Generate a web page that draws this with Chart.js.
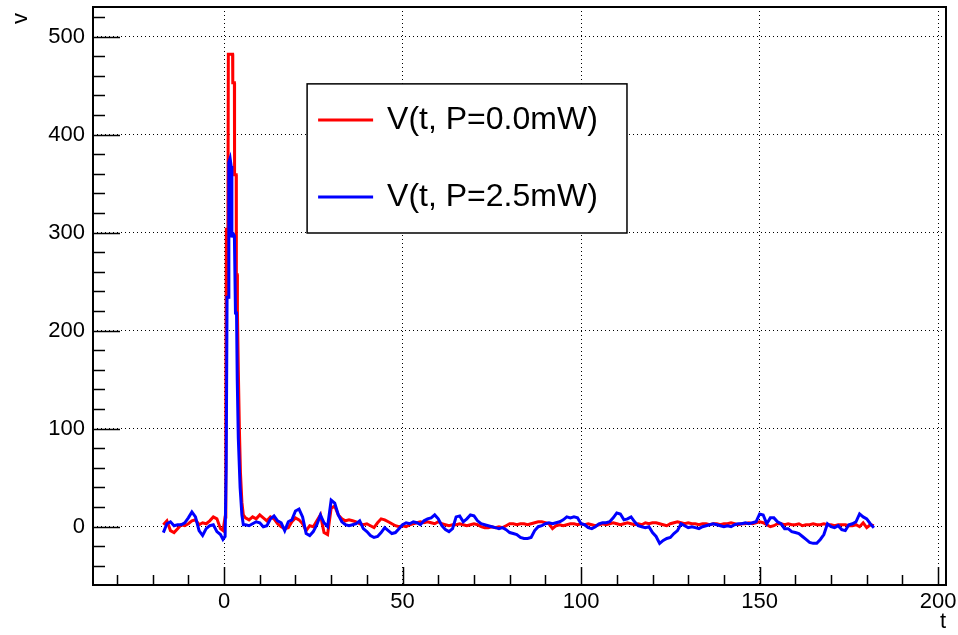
<!DOCTYPE html>
<html><head><meta charset="utf-8">
<script src="https://cdn.jsdelivr.net/npm/chart.js@4.4.1/dist/chart.umd.min.js"></script>
<style>html,body{margin:0;padding:0;background:#fff}#wrap{width:958px;height:635px}</style>
</head><body><div id="wrap"><canvas id="c" width="958" height="635"></canvas></div>
<script>
// ---- data ----
const seriesLabels = ['V(t, P=0.0mW)', 'V(t, P=2.5mW)'];
const xMajorTicks = [0, 50, 100, 150, 200];
const xMinorTicks = [-30, -20, -10, 10, 20, 30, 40, 60, 70, 80, 90, 110, 120, 130, 140, 160, 170, 180, 190];
const yMajorTicks = [0, 100, 200, 300, 400, 500];
const yMinorTicks = [-40, -20, 20, 40, 60, 80, 120, 140, 160, 180, 220, 240, 260, 280, 320, 340, 360, 380, 420, 440, 460, 480, 520];

const tPre = [-17, -16, -15, -14, -13, -12, -11, -10, -9, -8, -7, -6, -5, -4, -3, -2, -1];
const redPre  = [2, 6, -4, -6, -2, 2, 1, 3, 6, 7, 2, 4, 3, 6, 10, 8, -2];
const bluePre = [-6, 3, 5, 1, 2, 2, 4, 9, 15, 10, -4, -9, -2, 1, 2, -5, -8];

const tRedSpike = [-0.3, 0.3, 0.5, 0.65, 1.0, 1.05, 1.2, 2.4, 2.45, 2.9, 2.95, 3.4, 3.45, 3.7, 3.75, 4.0, 4.3, 4.6, 5.0, 5.4];
const vRedSpike = [-4, 10, 120, 305, 234, 240, 482, 482, 453, 453, 359, 359, 257, 257, 220, 160, 100, 55, 25, 12];
const tBlueSpike = [-0.3, 0.3, 0.6, 0.85, 1.25, 1.35, 1.7, 2.0, 2.2, 2.4, 2.9, 3.2, 3.5, 3.7, 4.0, 4.5, 5.0, 5.4];
const vBlueSpike = [-13, -10, 60, 234, 234, 372, 376, 368, 295, 300, 297, 218, 218, 150, 90, 40, 12, 2];

const tPost = [
  6, 7, 8, 9, 10, 11, 12, 13, 14, 15,
  16, 17, 18, 19, 20, 21, 22, 23, 24, 25,
  26, 27, 28, 29, 30, 31, 32, 33, 34, 35,
  36, 37, 38, 39, 40, 41, 42, 43, 44, 45,
  46, 47, 48, 49, 50, 51, 52, 53, 54, 55,
  56, 57, 58, 59, 60, 61, 62, 63, 64, 65,
  66, 67, 68, 69, 70, 71, 72, 73, 74, 75,
  76, 77, 78, 79, 80, 81, 82, 83, 84, 85,
  86, 87, 88, 89, 90, 91, 92, 93, 94, 95,
  96, 97, 98, 99, 100, 101, 102, 103, 104, 105,
  106, 107, 108, 109, 110, 111, 112, 113, 114, 115,
  116, 117, 118, 119, 120, 121, 122, 123, 124, 125,
  126, 127, 128, 129, 130, 131, 132, 133, 134, 135,
  136, 137, 138, 139, 140, 141, 142, 143, 144, 145,
  146, 147, 148, 149, 150, 151, 152, 153, 154, 155,
  156, 157, 158, 159, 160, 161, 162, 163, 164, 165,
  166, 167, 168, 169, 170, 171, 172, 173, 174, 175,
  176, 177, 178, 179, 180, 181, 182
];
const redPost = [
  9, 7, 10, 8, 12, 9, 6, 10, 8, 3,
  0, -2, -1, 5, 9, 7, 3, -4, 1, 0,
  6, 12, -6, -8, 19, 21, 12, 8, 6, 7,
  6, 5, 3, 2, 3, 1, -1, 4, 8, 7,
  5, 3, 1, 0, 1, 0, 2, 3, 4, 5,
  4, 5, 4, 3, 5, 3, 2, 1, 2, 2,
  3, 2, 1, 2, 3, 2, 0, -1, -1, 0,
  -1, 0, -1, 1, 3, 3, 2, 3, 3, 2,
  3, 4, 5, 5, 4, 3, -2, 1, 2, 1,
  2, 3, 3, 2, 3, 2, 3, 2, 1, 2,
  3, 2, 3, 4, 3, 2, 3, 4, 3, 2,
  3, 2, 4, 3, 4, 4, 3, 2, 1, 3,
  4, 5, 4, 3, 4, 3, 3, 2, 3, 3,
  2, 3, 3, 2, 3, 3, 4, 3, 2, 3,
  3, 4, 3, 4, 5, 4, 2, 0, 1, 3,
  3, 2, 3, 2, 2, 3, 1, 2, 2, 3,
  2, 2, 3, 2, 2, 1, 2, 2, 2, 1,
  1, 2, 0, 4, -1, 2, 1
];
const bluePost = [
  2, 1, 3, 5, 4, 0, 1, 8, 11, 6,
  4, -4, 5, 7, 16, 18, 10, -7, -9, -5,
  2, 12, 4, 0, 27, 24, 12, 5, 2, 1,
  2, 3, 6, -2, -5, -9, -11, -10, -6, -1,
  -4, -7, -6, -2, 2, 4, 3, 5, 4, 2,
  6, 8, 9, 12, 8, 1, -3, -5, -2, 10,
  11, 5, 8, 12, 11, 6, 3, 2, 1, 0,
  -1, -2, -1, -3, -6, -7, -8, -11, -12, -12,
  -11, -4, 0, 1, 3, 4, 3, 4, 5, 7,
  10, 9, 10, 9, 3, 2, -1, -2, 0, 3,
  4, 4, 5, 9, 14, 13, 7, 8, 10, 5,
  1, 0, -1, 0, -6, -10, -17, -14, -12, -11,
  -7, -4, 3, 1, -1, 0, -1, -2, 0, 1,
  2, 3, 2, 1, 0, 1, 0, 2, 3, 3,
  4, 3, 4, 5, 13, 12, 3, 9, 9, 5,
  3, -2, -2, -5, -6, -7, -10, -13, -16, -17,
  -17, -13, -8, 3, 0, -1, 1, -3, -4, 2,
  3, 5, 13, 10, 8, 3, -1
];

// ---- build point lists ----
function pts(ts, vs) { return ts.map((t, i) => ({x: t, y: vs[i]})); }
const redData = [].concat(pts(tPre, redPre), pts(tRedSpike, vRedSpike), pts(tPost, redPost));
const blueData = [].concat(pts(tPre, bluePre), pts(tBlueSpike, vBlueSpike), pts(tPost, bluePost));

const FONT = "'Liberation Sans', Arial, Helvetica, sans-serif";
const xTickValues = xMinorTicks.concat(xMajorTicks).sort((a, b) => a - b);
const yTickValues = yMinorTicks.concat(yMajorTicks).sort((a, b) => a - b);

const frameTicks = {
  id: 'frameTicks',
  afterDraw(chart) {
    const {ctx, chartArea: a, scales: {x, y}} = chart;
    ctx.save();
    ctx.strokeStyle = '#000';
    ctx.lineWidth = 1.5;
    ctx.beginPath();
    x.ticks.forEach(tk => {
      const px = Math.round(x.getPixelForValue(tk.value)) + 0.5;
      const len = xMajorTicks.includes(tk.value) ? 18 : 10;
      ctx.moveTo(px, a.bottom); ctx.lineTo(px, a.bottom - len);
    });
    y.ticks.forEach(tk => {
      const py = Math.round(y.getPixelForValue(tk.value)) + 0.5;
      const len = yMajorTicks.includes(tk.value) ? 27 : 12;
      ctx.moveTo(a.left, py); ctx.lineTo(a.left + len, py);
    });
    ctx.stroke();
    ctx.lineWidth = 2;
    ctx.strokeRect(a.left, a.top, a.right - a.left, a.bottom - a.top);
    ctx.restore();
  }
};

const legendBox = {
  id: 'legendBox',
  afterDatasetsDraw(chart) {
    const {ctx, chartArea: a} = chart;
    const W = a.right - a.left, H = a.bottom - a.top;
    const bx = a.left + W * 0.251, by = a.top + H * 0.133;
    const bw = W * 0.375, bh = H * 0.258;
    ctx.save();
    ctx.fillStyle = '#fff';
    ctx.fillRect(bx, by, bw, bh);
    ctx.strokeStyle = '#000';
    ctx.lineWidth = 1.5;
    ctx.strokeRect(bx, by, bw, bh);
    chart.data.datasets.forEach((ds, i) => {
      const yy = by + bh * (i === 0 ? 0.242 : 0.758);
      ctx.strokeStyle = ds.borderColor;
      ctx.lineWidth = 3;
      ctx.beginPath();
      ctx.moveTo(bx + 11, yy); ctx.lineTo(bx + 66, yy);
      ctx.stroke();
      ctx.fillStyle = '#000';
      ctx.font = '32px ' + FONT;
      ctx.textBaseline = 'middle';
      ctx.textAlign = 'left';
      ctx.fillText(ds.label, bx + 80, yy);
    });
    ctx.restore();
  }
};

new Chart(document.getElementById('c'), {
  type: 'line',
  data: {
    datasets: [
      {label: seriesLabels[0], data: redData, borderColor: '#ff0000', borderWidth: 3, pointRadius: 0, tension: 0, order: 1, fill: false},
      {label: seriesLabels[1], data: blueData, borderColor: '#0000ff', borderWidth: 3, pointRadius: 0, tension: 0, order: 0, fill: false}
    ]
  },
  options: {
    responsive: false,
    animation: false,
    devicePixelRatio: 1,
    layout: {padding: {top: 7, right: 12, left: 0, bottom: 0}},
    plugins: {legend: {display: false}, tooltip: {enabled: false}},
    scales: {
      x: {
        type: 'linear', min: -36.7, max: 202.2,
        afterBuildTicks: s => { s.ticks = xTickValues.map(v => ({value: v})); },
        afterFit: s => { s.height = 50; s.paddingLeft = 0; s.paddingRight = 0; },
        ticks: {
          autoSkip: false, maxRotation: 0, padding: 4, color: '#000',
          font: {family: FONT, size: 22},
          callback: v => xMajorTicks.includes(v) ? String(v) : ''
        },
        grid: {
          drawTicks: false, lineWidth: 1,
          color: c => (c.tick && xMajorTicks.includes(c.tick.value)) ? '#000' : 'rgba(0,0,0,0)'
        },
        border: {display: false, dash: [1, 3]},
        title: {display: true, text: 't', align: 'end', color: '#000', font: {family: FONT, size: 22}, padding: 0}
      },
      y: {
        type: 'linear', min: -59.5, max: 530.3,
        afterBuildTicks: s => { s.ticks = yTickValues.map(v => ({value: v})); },
        afterFit: s => { s.width = 93; s.paddingTop = 0; s.paddingBottom = 0; },
        ticks: {
          autoSkip: false, padding: 8, color: '#000',
          font: {family: FONT, size: 22},
          callback: v => yMajorTicks.includes(v) ? String(v) : ''
        },
        grid: {
          drawTicks: false, lineWidth: 1,
          color: c => (c.tick && yMajorTicks.includes(c.tick.value)) ? '#000' : 'rgba(0,0,0,0)'
        },
        border: {display: false, dash: [1, 3]},
        title: {display: true, text: 'v ', align: 'end', color: '#000', font: {family: FONT, size: 22}, padding: {top: 8, bottom: 0}}
      }
    }
  },
  plugins: [frameTicks, legendBox]
});
</script>
</body></html>
